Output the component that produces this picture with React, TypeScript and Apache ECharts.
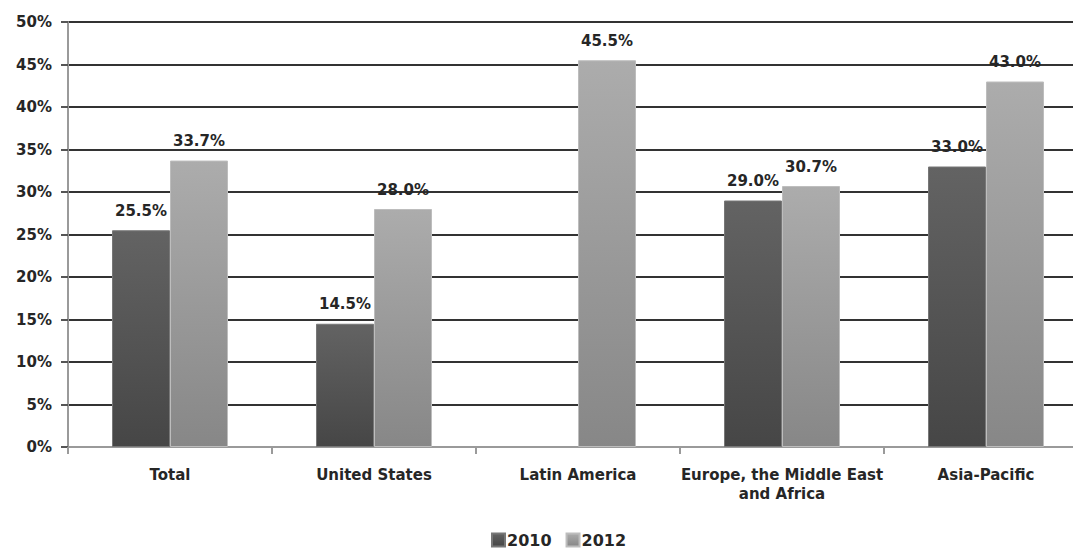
import React, { useEffect, useRef } from "react";
import * as echarts from "echarts";

const categories = [
  "Total",
  "United States",
  "Latin America",
  "Europe, the Middle East\nand Africa",
  "Asia-Pacific",
];
const series2010: (number | null)[] = [25.5, 14.5, null, 29.0, 33.0];
const series2012: (number | null)[] = [33.7, 28.0, 45.5, 30.7, 43.0];
const seriesNames = ["2010", "2012"];
const yTickFormat = "{value}%";

const FONT = "'DejaVu Sans', Verdana, sans-serif";
const TEXT = "#262626";

export default function App() {
  const ref = useRef<HTMLDivElement>(null);
  useEffect(() => {
    if (!ref.current) return;
    const chart = echarts.init(ref.current, undefined, { renderer: "svg" });
    const grad = (top: string, bottom: string) =>
      new echarts.graphic.LinearGradient(0, 0, 0, 1, [
        { offset: 0, color: top },
        { offset: 1, color: bottom },
      ]);
    const label = {
      show: true,
      position: "top" as const,
      distance: 12,
      fontFamily: FONT,
      fontSize: 15,
      fontWeight: "bold" as const,
      color: TEXT,
      formatter: (p: any) => (p.value == null ? "" : Number(p.value).toFixed(1) + "%"),
    };
    chart.setOption({
      animation: false,
      backgroundColor: "#ffffff",
      grid: { left: 68, top: 22, bottom: 101, right: 2, containLabel: false },
      legend: {
        bottom: -5,
        left: 486,
        itemWidth: 13,
        itemHeight: 13,
        itemGap: 14,
        icon: "rect",
        textStyle: { fontFamily: FONT, fontSize: 16, fontWeight: "bold", color: TEXT, padding: [0, 0, 0, -3] },
        data: seriesNames,
      },
      xAxis: {
        type: "category",
        data: categories,
        axisLine: { lineStyle: { color: "#9a9a9a", width: 2 } },
        axisTick: { show: true, length: 7, alignWithLabel: false, lineStyle: { color: "#9a9a9a", width: 2 } },
        axisLabel: {
          fontFamily: FONT,
          fontSize: 15,
          fontWeight: "bold",
          color: TEXT,
          margin: 18,
          lineHeight: 19,
          interval: 0,
        },
      },
      yAxis: {
        type: "value",
        min: 0,
        max: 50,
        interval: 5,
        axisLine: { show: true, lineStyle: { color: "#9a9a9a", width: 2 } },
        axisTick: { show: true, length: 7, lineStyle: { color: "#555", width: 2 } },
        splitLine: { lineStyle: { color: "#333333", width: 2 } },
        axisLabel: {
          formatter: yTickFormat,
          fontFamily: FONT,
          fontSize: 15,
          fontWeight: "bold",
          color: TEXT,
          margin: 16,
        },
      },
      series: [
        {
          name: seriesNames[0],
          type: "bar",
          data: series2010,
          barWidth: 58,
          barGap: "0%",
          itemStyle: { color: grad("#636363", "#464646"), borderColor: "#777777", borderWidth: 1 },
          label,
        },
        {
          name: seriesNames[1],
          type: "bar",
          data: series2012,
          barWidth: 58,
          barGap: "0%",
          itemStyle: { color: grad("#acacac", "#878787"), borderColor: "#bdbdbd", borderWidth: 1 },
          label,
        },
      ],
    });
    return () => chart.dispose();
  }, []);
  return (
    <div style={{ position: "fixed", left: 0, top: 0, width: 1073, height: 548, overflow: "hidden" }}>
      <div ref={ref} style={{ width: 1090, height: 548 }} />
    </div>
  );
}
